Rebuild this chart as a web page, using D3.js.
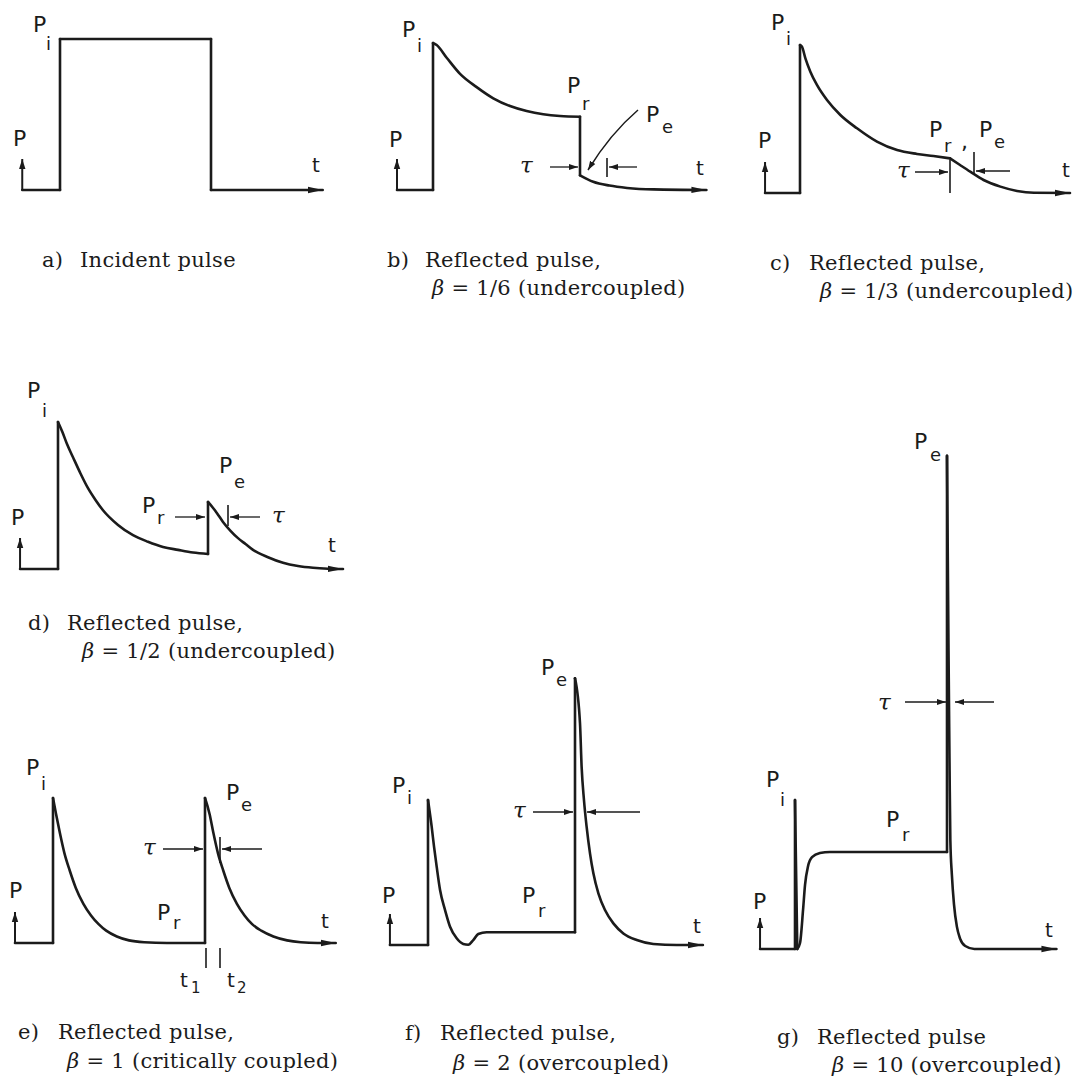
<!DOCTYPE html>
<html>
<head>
<meta charset="utf-8">
<script src="https://cdn.jsdelivr.net/npm/d3@7"></script>
<style>
  html, body { margin: 0; padding: 0; background: #ffffff; }
  svg { display: block; }
  .trace { fill: none; stroke: #1b1b1b; stroke-width: 2.6; stroke-linecap: round; stroke-linejoin: round; }
  .thin { fill: none; stroke: #1b1b1b; stroke-width: 1.3; }
  .lbl { font-family: "DejaVu Sans", "Liberation Sans", sans-serif; fill: #1b1b1b; }
  .tau { font-family: "DejaVu Serif", serif; font-style: italic; fill: #1b1b1b; font-size: 23px; }
  .cap { font-family: "DejaVu Serif", serif; fill: #1b1b1b; font-size: 21px; letter-spacing: 0.3px; }
</style>
</head>
<body>
<svg id="fig" width="1077" height="1080"></svg>
<script>
// Reflected power from a resonant cavity driven by a rectangular pulse.
// Time t: pulse starts at t = 0 and ends at t = 10.  Power P is given relative to Pi.
// Every trace is a list of strokes; strokes with two points are straight, longer ones are smooth.

const incidentPulse = [
  [[-2.5, 0], [0, 0]],
  [[0, 0], [0, 1]],
  [[0, 1], [10, 1]],
  [[10, 1], [10, 0]],
  [[10, 0], [17.4, 0]]
];

// beta = 1/6
const reflectedSixth = [
  [[-2.45, 0], [0, 0]],
  [[0, 0], [0, 1]],
  [[0, 1], [0.25, 0.986], [0.93, 0.9], [1.84, 0.79], [2.97, 0.7], [4.1, 0.624], [5.24, 0.571],
   [6.37, 0.537], [7.5, 0.515], [8.64, 0.503], [10, 0.498]],
  [[10, 0.498], [10, 0.1]],
  [[10, 0.1], [10.9, 0.056], [12, 0.03], [13.2, 0.014], [15, 0.004], [18.6, 0]]
];

// beta = 1/3
const reflectedThird = [
  [[-2.33, 0], [0, 0]],
  [[0, 0], [0, 1]],
  [[0, 1], [0.13, 0.989], [0.36, 0.91], [0.69, 0.82], [1.13, 0.73], [1.8, 0.628], [2.69, 0.527],
   [3.8, 0.437], [5.13, 0.347], [6.47, 0.29], [7.8, 0.264], [8.9, 0.25], [10, 0.234]],
  [[10, 0.234], [10.67, 0.189], [11.35, 0.144], [12.24, 0.088], [13.36, 0.043], [14.47, 0.014],
   [15.6, 0.002], [18, 0]]
];

// beta = 1/2
const reflectedHalf = [
  [[-2.53, 0], [0, 0]],
  [[0, 0], [0, 1]],
  [[0, 1], [0.3, 0.93], [0.6, 0.85], [1, 0.76], [1.5, 0.65], [2, 0.55], [2.5, 0.47], [3, 0.4],
   [4, 0.3], [5, 0.23], [6, 0.185], [7, 0.15], [8, 0.13], [9, 0.112], [10, 0.102]],
  [[10, 0.102], [10, 0.456]],
  [[10, 0.456], [10.3, 0.42], [10.6, 0.38], [11, 0.32], [11.5, 0.26], [12, 0.21], [12.5, 0.17],
   [13, 0.13], [14, 0.08], [15, 0.042], [16, 0.02], [17, 0.008], [18, 0.002], [19, 0]]
];

// beta = 1 (critical coupling)
const reflectedOne = [
  [[-2.5, 0], [0, 0]],
  [[0, 0], [0, 1]],
  [[0, 1], [0.2, 0.89], [0.45, 0.76], [0.75, 0.62], [1.1, 0.5], [1.5, 0.38], [2, 0.27], [2.5, 0.19],
   [3, 0.13], [3.5, 0.085], [4.2, 0.045], [5, 0.018], [6, 0.005], [7.5, 0], [10, 0]],
  [[10, 0], [10, 1]],
  [[10, 1], [10.3, 0.89], [10.55, 0.76], [10.85, 0.62], [11.2, 0.5], [11.6, 0.38], [12.1, 0.27],
   [12.6, 0.19], [13.1, 0.13], [13.7, 0.085], [14.5, 0.045], [15.4, 0.018], [16.3, 0.005],
   [17.4, 0], [18.6, 0]]
];

// beta = 2
const reflectedTwo = [
  [[-2.59, 0], [0, 0]],
  [[0, 0], [0, 1]],
  [[0, 1], [0.25, 0.816], [0.41, 0.678], [0.59, 0.54], [0.82, 0.379], [1.16, 0.241], [1.5, 0.126],
   [1.95, 0.046], [2.4, 0.007], [2.74, 0.002], [3.08, 0.034], [3.42, 0.076], [3.99, 0.088],
   [6.71, 0.088], [10, 0.088]],
  [[10, 0.088], [10, 1.84]],
  [[10, 1.84], [10.34, 1.529], [10.45, 1.23], [10.61, 1.0], [10.79, 0.816], [11.02, 0.632],
   [11.25, 0.494], [11.59, 0.356], [12.04, 0.241], [12.61, 0.149], [13.29, 0.08], [14.2, 0.034],
   [15.33, 0.007], [16.92, 0], [18.7, 0]]
];

// beta = 10
const reflectedTen = [
  [[-2.3, 0], [0, 0]],
  [[0, 0], [0, 1]],
  [[0, 1], [0.15, 0]],
  [[0.15, 0], [0.33, 0.04], [0.53, 0.262], [0.66, 0.43], [0.86, 0.557], [1.12, 0.617],
   [1.64, 0.644], [2.3, 0.651], [10, 0.651]],
  [[10, 0.651], [10, 3.31]],
  [[10, 3.31], [10.1, 2.0], [10.17, 1.2], [10.22, 0.73], [10.32, 0.5], [10.46, 0.3], [10.65, 0.15],
   [10.86, 0.07], [11.2, 0.02], [11.8, 0], [17.2, 0]]
];

const panelLetters = ["a)", "b)", "c)", "d)", "e)", "f)", "g)"];
const captionFirst = ["Incident pulse", "Reflected pulse,", "Reflected pulse,", "Reflected pulse,",
                      "Reflected pulse,", "Reflected pulse,", "Reflected pulse"];
const betaValues = [null, "1/6", "1/3", "1/2", "1", "2", "10"];
const couplingNames = [null, "undercoupled", "undercoupled", "undercoupled",
                       "critically coupled", "overcoupled", "overcoupled"];
const traces = [incidentPulse, reflectedSixth, reflectedThird, reflectedHalf,
                reflectedOne, reflectedTwo, reflectedTen];

// Placement of each panel: x0 = pixel of t = 0, k = pixels per time unit,
// y0 = baseline pixel, h = pixels for P = Pi.
const frames = [
  { x0: 60,  k: 15.1, y0: 190, h: 151 },
  { x0: 433, k: 14.7, y0: 190, h: 147 },
  { x0: 800, k: 15.0, y0: 193, h: 148 },
  { x0: 58,  k: 15.0, y0: 569, h: 147 },
  { x0: 53,  k: 15.2, y0: 943, h: 145 },
  { x0: 428, k: 14.7, y0: 945, h: 145 },
  { x0: 795, k: 15.2, y0: 949, h: 149 }
];

// Caption placement: letter x, text x, first baseline, second line x, second baseline.
const captionPos = [
  { lx: 42,  tx: 80,  y1: 267 },
  { lx: 387, tx: 425, y1: 267, bx: 432, y2: 295 },
  { lx: 770, tx: 809, y1: 270, bx: 820, y2: 298 },
  { lx: 28,  tx: 67,  y1: 630, bx: 82,  y2: 658 },
  { lx: 18,  tx: 58,  y1: 1039, bx: 67, y2: 1068 },
  { lx: 405, tx: 440, y1: 1040, bx: 453, y2: 1070 },
  { lx: 777, tx: 817, y1: 1044, bx: 832, y2: 1072 }
];

// Letter annotations: [main, subscript, x, y, subX, subY]
const symbolLabels = [
  [["P", "i", 33, 32, 46, 50], ["P", "", 13, 146], ["t", "", 312, 172]],
  [["P", "i", 402, 37, 417, 52], ["P", "r", 567, 93, 582, 110], ["P", "e", 646, 122, 662, 133],
   ["P", "", 389, 147], ["t", "", 696, 175]],
  [["P", "i", 771, 30, 786, 45], ["P", "r", 929, 137, 944, 152], [",", "", 961, 149],
   ["P", "e", 979, 137, 994, 148], ["P", "", 758, 148], ["t", "", 1062, 177]],
  [["P", "i", 27, 398, 42, 417], ["P", "e", 219, 473, 234, 488], ["P", "r", 142, 513, 157, 524],
   ["P", "", 11, 525], ["t", "", 328, 552]],
  [["P", "i", 26, 775, 41, 790], ["P", "e", 226, 800, 241, 811], ["P", "r", 157, 920, 173, 929],
   ["P", "", 9, 898], ["t", "", 321, 928], ["t", "1", 180, 987, 191, 993], ["t", "2", 227, 987, 237, 993]],
  [["P", "i", 392, 793, 407, 804], ["P", "e", 541, 675, 556, 686], ["P", "r", 522, 903, 538, 917],
   ["P", "", 382, 903], ["t", "", 693, 933]],
  [["P", "i", 766, 787, 780, 806], ["P", "e", 914, 449, 930, 461], ["P", "r", 886, 827, 902, 841],
   ["P", "", 753, 909], ["t", "", 1045, 937]]
];

// Pulse-width markers: tau label, arrows [x1, y1, x2, y2] (head at x2), ticks [x, y1, y2]
const tauMarks = [
  null,
  { label: [520, 173], arrows: [[550, 167, 578, 167], [637, 167, 609, 167]], ticks: [[607, 158, 177]] },
  { label: [897, 178], arrows: [[915, 172, 948, 172], [1010, 171, 976, 171]], ticks: [[950, 160, 193], [974, 152, 173]] },
  { label: [272, 523], arrows: [[175, 517, 205, 517], [260, 517, 230, 517]], ticks: [[228, 505, 526]] },
  { label: [143, 855], arrows: [[163, 849, 203, 849], [262, 849, 222, 849]],
    ticks: [[220, 837, 863], [206, 948, 968], [220, 948, 968]] },
  { label: [513, 818], arrows: [[533, 812, 573, 812], [640, 812, 587, 812]], ticks: [] },
  { label: [878, 710], arrows: [[905, 702, 946, 702], [994, 702, 955, 702]], ticks: [] }
];

const svg = d3.select("#fig");
const defs = svg.append("defs");

function addMarker(id, len, half) {
  defs.append("marker")
    .attr("id", id)
    .attr("markerUnits", "userSpaceOnUse")
    .attr("viewBox", `0 ${-half - 1} ${len + 1} ${2 * half + 2}`)
    .attr("refX", len)
    .attr("refY", 0)
    .attr("markerWidth", len + 1)
    .attr("markerHeight", 2 * half + 2)
    .attr("orient", "auto")
    .append("path")
    .attr("d", `M0,${-half}L${len},0L0,${half}Z`)
    .attr("fill", "#1b1b1b");
}
addMarker("endHead", 15, 3.2);
addMarker("axisHead", 10, 3.2);
addMarker("tauHead", 9, 3);

const smooth = d3.line().curve(d3.curveMonotoneX);
const straight = d3.line().curve(d3.curveLinear);

traces.forEach((strokes, i) => {
  const f = frames[i];
  const sx = d3.scaleLinear().domain([0, 10]).range([f.x0, f.x0 + 10 * f.k]);
  const sy = d3.scaleLinear().domain([0, 1]).range([f.y0, f.y0 - f.h]);
  const g = svg.append("g").attr("class", "panel-" + panelLetters[i][0]);

  strokes.forEach((s, j) => {
    const pts = s.map(d => [sx(d[0]), sy(d[1])]);
    g.append("path")
      .attr("class", "trace")
      .attr("d", (s.length > 2 ? smooth : straight)(pts))
      .attr("marker-end", j === strokes.length - 1 ? "url(#endHead)" : null);
  });

  // vertical P axis arrow at the start of the trace
  const tStart = strokes[0][0][0];
  g.append("line")
    .attr("class", "thin")
    .style("stroke-width", 2)
    .attr("x1", sx(tStart)).attr("y1", sy(0))
    .attr("x2", sx(tStart)).attr("y2", sy(0) - 31)
    .attr("marker-end", "url(#axisHead)");

  // symbols
  symbolLabels[i].forEach(([main, sub, x, y, subX, subY]) => {
    const isT = main === "t";
    g.append("text").attr("class", "lbl")
      .attr("x", x).attr("y", y)
      .style("font-size", isT ? "20px" : "22px")
      .text(main);
    if (sub) {
      g.append("text").attr("class", "lbl")
        .attr("x", subX).attr("y", subY)
        .style("font-size", isT ? "15px" : "18px")
        .text(sub);
    }
  });

  // pulse-width markers
  const tm = tauMarks[i];
  if (tm) {
    g.append("text").attr("class", "tau").attr("x", tm.label[0]).attr("y", tm.label[1]).text("τ");
    tm.arrows.forEach(a => {
      g.append("line").attr("class", "thin")
        .attr("x1", a[0]).attr("y1", a[1]).attr("x2", a[2]).attr("y2", a[3])
        .attr("marker-end", "url(#tauHead)");
    });
    tm.ticks.forEach(t => {
      g.append("line").attr("class", "thin").style("stroke-width", 1.6)
        .attr("x1", t[0]).attr("y1", t[1]).attr("x2", t[0]).attr("y2", t[2]);
    });
  }

  // caption
  const c = captionPos[i];
  g.append("text").attr("class", "cap").attr("x", c.lx).attr("y", c.y1).text(panelLetters[i]);
  g.append("text").attr("class", "cap").attr("x", c.tx).attr("y", c.y1).text(captionFirst[i]);
  if (betaValues[i]) {
    const t2 = g.append("text").attr("class", "cap").attr("x", c.bx).attr("y", c.y2);
    t2.append("tspan").style("font-style", "italic").text("β");
    t2.append("tspan").text(` = ${betaValues[i]} (${couplingNames[i]})`);
  }
});

// curved pointer from the Pe label to the bottom of the step in panel b
svg.append("path")
  .attr("class", "thin")
  .style("stroke-width", 1.5)
  .attr("d", "M638,110 Q610,134 588,170")
  .attr("marker-end", "url(#tauHead)");
</script>
</body>
</html>
